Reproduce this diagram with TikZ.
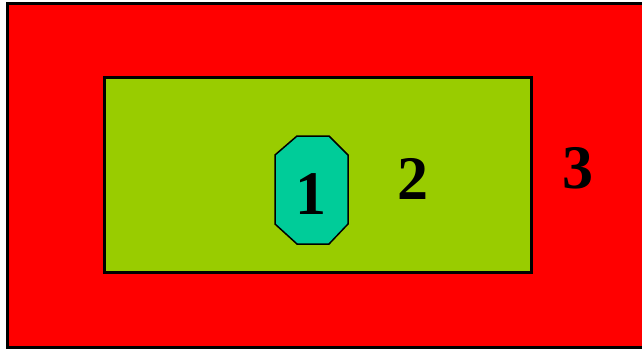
\documentclass[tikz,border=0pt]{standalone}
\usepackage{fontspec}
\setmainfont{Liberation Serif}
\definecolor{ZoneRed}{RGB}{255,0,0}
\definecolor{ZoneGreen}{RGB}{153,204,0}
\definecolor{ZoneTeal}{RGB}{0,204,153}

\begin{document}
\begin{tikzpicture}[x=1pt,y=-1pt,
    zone/.style={draw=black,line width=3pt},
    digit/.style={inner sep=0pt,font=\fontsize{62}{62}\selectfont\bfseries}]
    \useasboundingbox (0,0) rectangle (642,349);
    \fill[white] (0,0) rectangle (642,349);
    % nested regions
    \draw[zone,fill=ZoneRed] (7.5,3.5) rectangle (660,347.5);
    \draw[zone,fill=ZoneGreen] (104.5,77.5) rectangle (531,272.5);
    \draw[fill=ZoneTeal,line width=1.5pt] (297,136) -- (329,136) -- (348,155) -- (348,224)
      -- (329,244) -- (297,244) -- (275,224) -- (275,155) -- cycle;
    \node[digit] (one) at (311,194) {1};
    \node[digit] (two) at (412.5,178.5) {2};
    \node[digit] (three) at (577.5,168) {3};
  \end{tikzpicture}
\end{document}
